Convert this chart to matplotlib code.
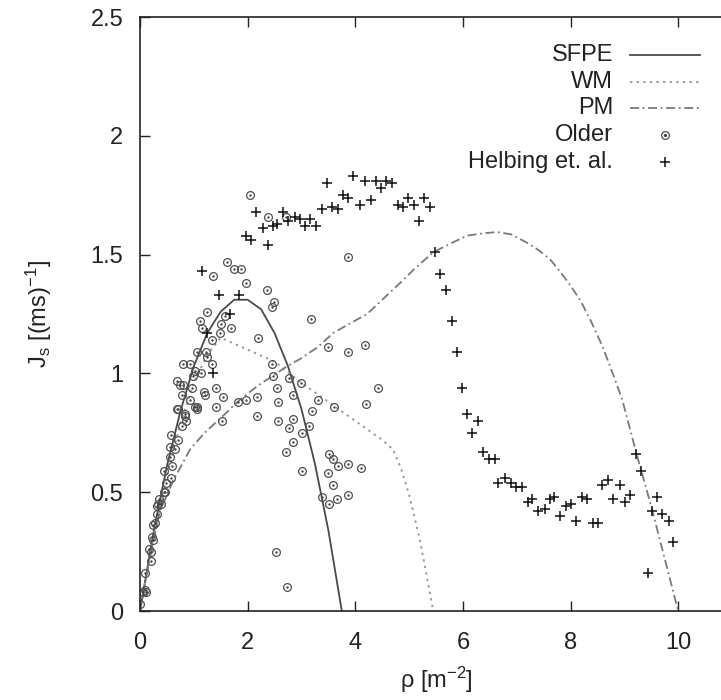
import numpy as np
import matplotlib
matplotlib.use('Agg')
import matplotlib.pyplot as plt

plt.rcParams['font.family'] = ['Liberation Sans', 'DejaVu Sans']
plt.rcParams['mathtext.default'] = 'regular'

# model curves
sfpe_x = [0, 0.25, 0.5, 0.75, 1.0, 1.25, 1.5, 1.75, 2.0, 2.25, 2.5, 2.75, 3.0, 3.25, 3.5, 3.75]
sfpe_y = [0, 0.33, 0.61, 0.84, 1.03, 1.17, 1.26, 1.31, 1.31, 1.27, 1.17, 1.03, 0.85, 0.62, 0.34, 0.0]

wm_x = [0, 0.25, 0.5, 0.75, 1.0, 1.25, 1.5, 2.0, 2.5, 3.0, 3.5, 4.0, 4.5, 4.7, 4.85, 5.0, 5.2, 5.35, 5.45]
wm_y = [0, 0.31, 0.57, 0.79, 0.96, 1.08, 1.15, 1.10, 1.05, 0.96, 0.88, 0.80, 0.72, 0.68, 0.60, 0.49, 0.30, 0.12, 0.0]

pm_x = [0, 0.1, 0.2, 0.37, 0.62, 0.93, 1.2, 1.49, 1.86, 2.2, 2.47, 2.73, 2.97, 3.3, 3.59, 3.9, 4.22,
        4.5, 4.83, 5.1, 5.45, 5.8, 6.08, 6.4, 6.64, 6.9, 7.19, 7.4, 7.62, 7.8, 8.0, 8.2, 8.4, 8.6,
        8.8, 8.96, 9.24, 9.5, 9.75, 10.0]
pm_y = [0, 0.12, 0.24, 0.42, 0.55, 0.68, 0.75, 0.81, 0.89, 0.95, 0.99, 1.03, 1.06, 1.11, 1.17, 1.21, 1.25,
        1.31, 1.38, 1.44, 1.51, 1.55, 1.58, 1.59, 1.595, 1.585, 1.55, 1.52, 1.48, 1.43, 1.37, 1.30,
        1.21, 1.11, 0.99, 0.89, 0.65, 0.44, 0.22, 0.0]

# Older measurements
older_x = [0.0, 0.06, 0.1, 0.1, 0.12, 0.17, 0.2, 0.2, 0.22, 0.25, 0.25, 0.28, 0.31, 0.31, 0.34, 0.36, 0.39,
           0.45, 0.46, 0.48, 0.45, 0.57, 0.59, 0.56, 0.65, 0.56, 0.71, 0.58, 0.78, 0.84, 0.70, 1.05,
           0.69, 0.79, 0.96, 0.78, 0.85, 0.93, 0.84, 0.69, 1.06, 1.02, 1.19, 0.74, 0.80, 0.93, 1.02,
           0.99, 1.13, 1.23, 1.24, 1.34, 1.05, 1.41, 1.41, 1.54, 1.52, 1.21, 1.34, 1.49, 1.69, 1.51,
           1.58, 1.15, 1.12, 1.25, 1.36, 1.62, 1.75, 1.88, 1.97, 2.04, 2.38, 2.71, 2.36, 2.49, 2.45,
           2.19, 2.45, 2.47, 2.77, 2.99, 1.82, 1.97, 2.17, 2.17, 2.54, 2.56, 2.57, 2.77, 2.85, 2.84,
           2.71, 2.85, 3.01, 3.14, 3.19, 3.31, 3.61, 3.01, 3.51, 3.59, 3.68, 3.49, 3.59, 3.38, 3.51,
           3.66, 2.53, 2.73, 3.18, 3.49, 3.87, 3.87, 4.18, 4.42, 4.20, 3.87, 4.10, 3.87]
older_y = [0.03, 0.08, 0.09, 0.16, 0.08, 0.26, 0.21, 0.25, 0.31, 0.30, 0.36, 0.37, 0.41, 0.44, 0.45, 0.47, 0.45,
           0.50, 0.50, 0.54, 0.59, 0.56, 0.61, 0.65, 0.68, 0.69, 0.72, 0.74, 0.78, 0.82, 0.85, 0.86,
           0.97, 0.95, 0.94, 0.91, 0.80, 0.89, 0.83, 0.85, 0.85, 0.86, 0.92, 0.95, 1.04, 1.04, 1.01,
           0.99, 1.00, 1.09, 1.07, 1.04, 1.09, 0.94, 0.86, 0.90, 0.80, 0.91, 1.14, 1.17, 1.19, 1.21,
           1.24, 1.19, 1.22, 1.26, 1.41, 1.47, 1.44, 1.44, 1.38, 1.75, 1.66, 1.66, 1.35, 1.30, 1.28,
           1.15, 1.04, 0.99, 0.98, 0.96, 0.88, 0.89, 0.90, 0.82, 0.94, 0.88, 0.80, 0.77, 0.81, 0.71,
           0.67, 0.91, 0.75, 0.78, 0.84, 0.89, 0.86, 0.59, 0.66, 0.64, 0.61, 0.58, 0.53, 0.48, 0.45,
           0.47, 0.25, 0.10, 1.23, 1.11, 1.49, 1.09, 1.12, 0.94, 0.87, 0.62, 0.60, 0.49]

# Helbing et al. measurements
helbing_x = [1.15, 1.24, 1.36, 1.47, 1.67, 1.84, 1.97, 2.06, 2.16, 2.29, 2.38, 2.47, 2.55, 2.66, 2.75, 2.88,
             2.97, 3.07, 3.16, 3.27, 3.38, 3.47, 3.57, 3.68, 3.78, 3.86, 3.96, 4.08, 4.18, 4.29, 4.39,
             4.48, 4.57, 4.69, 4.80, 4.89, 4.98, 5.09, 5.19, 5.28, 5.38, 5.48, 5.58, 5.69, 5.80, 5.89,
             5.99, 6.08, 6.17, 6.28, 6.38, 6.49, 6.60, 6.66, 6.78, 6.89, 6.99, 7.10, 7.21, 7.28, 7.40,
             7.53, 7.62, 7.70, 7.81, 7.92, 8.00, 8.10, 8.22, 8.31, 8.42, 8.51, 8.59, 8.70, 8.79, 8.92,
             9.01, 9.11, 9.22, 9.31, 9.44, 9.52, 9.61, 9.70, 9.83, 9.91]
helbing_y = [1.43, 1.17, 1.00, 1.33, 1.25, 1.33, 1.58, 1.56, 1.68, 1.61, 1.54, 1.62, 1.63, 1.68, 1.64, 1.66,
             1.65, 1.62, 1.65, 1.62, 1.69, 1.80, 1.70, 1.69, 1.75, 1.74, 1.83, 1.71, 1.81, 1.73, 1.81,
             1.78, 1.81, 1.80, 1.71, 1.70, 1.74, 1.71, 1.64, 1.74, 1.70, 1.51, 1.42, 1.35, 1.22, 1.09,
             0.94, 0.83, 0.75, 0.80, 0.67, 0.64, 0.64, 0.54, 0.56, 0.54, 0.52, 0.52, 0.46, 0.47, 0.42,
             0.43, 0.47, 0.48, 0.40, 0.44, 0.45, 0.38, 0.48, 0.47, 0.37, 0.37, 0.53, 0.55, 0.47, 0.53,
             0.46, 0.49, 0.66, 0.59, 0.16, 0.42, 0.48, 0.41, 0.38, 0.29]

labels = ['SFPE', 'WM', 'PM', 'Older', 'Helbing et. al.']

fig = plt.figure(figsize=(7.21, 7.0), dpi=100)
# the original picture is cropped on the right, the frame runs past the edge
ax = fig.add_axes([140 / 721, 89 / 700, 592 / 721, 594 / 700])

l_sfpe, = ax.plot(sfpe_x, sfpe_y, color='#4a4a4a', lw=1.3, ls='-')
l_wm, = ax.plot(wm_x, wm_y, color='#9a9a9a', lw=1.4, ls=(0, (1.2, 2.2)))
l_pm, = ax.plot(pm_x, pm_y, color='#7a7a7a', lw=1.3, ls=(0, (5, 2, 1, 2)))

ax.plot(older_x, older_y, ls='none', marker='o', ms=5.6, mfc='none', mec='#505050', mew=0.9)
ax.plot(older_x, older_y, ls='none', marker='o', ms=1.3, mfc='#404040', mec='#404040', mew=0.3)
ax.plot(helbing_x, helbing_y, ls='none', marker='+', ms=7.5, mec='#111111', mew=1.1)

ax.set_xlim(0, 11)
ax.set_ylim(0, 2.5)
ax.set_xticks([0, 2, 4, 6, 8, 10])
ax.set_yticks([0, 0.5, 1, 1.5, 2, 2.5])
ax.set_yticklabels(['0', '0.5', '1', '1.5', '2', '2.5'])
ax.tick_params(direction='in', length=7, width=1, top=True, right=True,
               labelsize=17, colors='#222222', pad=12)
ax.tick_params(axis='x', pad=15)
for s in ax.spines.values():
    s.set_linewidth(1.2)
    s.set_color('#222222')

ax.set_xlabel('ρ [m$^{-2}$]', fontsize=17, color='#222222', labelpad=8)
ax.set_ylabel('J$_s$ [(ms)$^{-1}$]', fontsize=17, color='#222222', labelpad=26)

# gnuplot style key: text right aligned, sample on the right
key_y = [0.936, 0.891, 0.847, 0.801, 0.756]
for i, lab in enumerate(labels):
    ax.text(0.799, key_y[i], lab, transform=ax.transAxes, ha='right', va='center',
            fontsize=17, color='#222222')
ax.plot([0.828, 0.946], [key_y[0]] * 2, transform=ax.transAxes, color=l_sfpe.get_color(), lw=1.3, ls='-')
ax.plot([0.828, 0.946], [key_y[1]] * 2, transform=ax.transAxes, color=l_wm.get_color(), lw=1.4, ls=(0, (1.2, 2.2)))
ax.plot([0.828, 0.946], [key_y[2]] * 2, transform=ax.transAxes, color=l_pm.get_color(), lw=1.3, ls=(0, (5, 2, 1, 2)))
ax.plot([0.887], [key_y[3]], transform=ax.transAxes, ls='none', marker='o', ms=5.6, mfc='none', mec='#505050', mew=0.9)
ax.plot([0.887], [key_y[3]], transform=ax.transAxes, ls='none', marker='o', ms=1.3, mfc='#404040', mec='#404040')
ax.plot([0.887], [key_y[4]], transform=ax.transAxes, ls='none', marker='+', ms=7.5, mec='#111111', mew=1.1)

plt.savefig('out.png', dpi=100)
